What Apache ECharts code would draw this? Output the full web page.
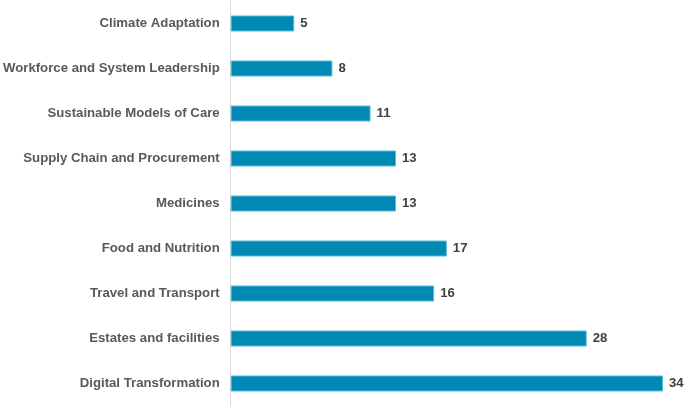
<!DOCTYPE html>
<html lang="en">
  <head>
    <meta charset="UTF-8" />
    <title>Bar chart</title>
    <style>
      html, body { margin: 0; padding: 0; background: #fff; }
      #main { width: 685px; height: 407px; }
    </style>
  </head>
  <body>
    <div id="main"></div>
    <script src="https://cdn.jsdelivr.net/npm/echarts@6/dist/echarts.min.js"></script>
    <script>
      // top to bottom as in the picture
      const categories = [
        "Climate Adaptation",
        "Workforce and System Leadership",
        "Sustainable Models of Care",
        "Supply Chain and Procurement",
        "Medicines",
        "Food and Nutrition",
        "Travel and Transport",
        "Estates and facilities",
        "Digital Transformation",
      ];
      const counts = [5, 8, 11, 13, 13, 17, 16, 28, 34];

      const myChart = echarts.init(document.getElementById("main"));

      myChart.setOption({
        animation: false,
        grid: { left: 230, right: 22, top: 1, bottom: 1, containLabel: false },
        xAxis: {
          type: "value",
          min: 0,
          max: 34,
          show: false,
        },
        yAxis: {
          type: "category",
          data: categories,
          inverse: true,
          axisLine: { show: true, lineStyle: { color: "#d9d9d9", width: 1 } },
          axisTick: { show: false },
          axisLabel: {
            margin: 11,
            color: "#595959",
            fontFamily: "Liberation Sans, Arial, sans-serif",
            fontWeight: "bold",
            fontSize: 13.2,
          },
        },
        series: [
          {
            type: "bar",
            data: counts,
            barWidth: 16,
            itemStyle: { color: "#0089b3", borderColor: "#5bbbd9", borderWidth: 1 },
            label: {
              show: true,
              position: "right",
              distance: 6,
              color: "#404040",
              fontFamily: "Liberation Sans, Arial, sans-serif",
              fontWeight: "bold",
              fontSize: 13.2,
            },
          },
        ],
      });
    </script>
  </body>
</html>
